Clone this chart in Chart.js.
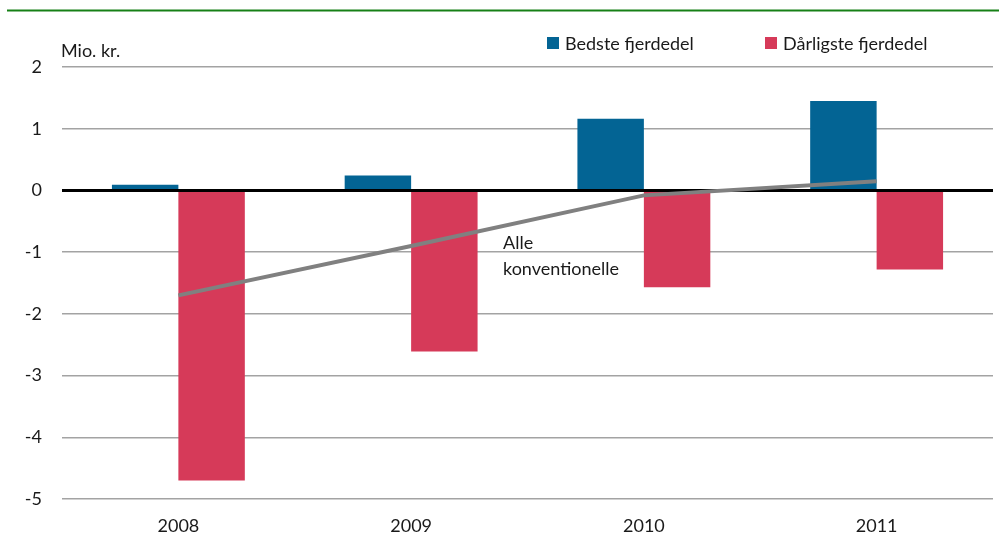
<!DOCTYPE html>
<html>
<head>
<meta charset="utf-8">
<script src="https://cdn.jsdelivr.net/npm/chart.js@4"></script>
<style>
  html, body { margin: 0; padding: 0; background: #fff; }
  #wrap { position: relative; width: 999px; height: 536px; }
</style>
</head>
<body>
<div id="wrap"><canvas id="chart"></canvas></div>
<script>
// data
const years = ['2008', '2009', '2010', '2011'];
const bedste = [0.09, 0.24, 1.16, 1.45];
const daarligste = [-4.70, -2.61, -1.57, -1.28];
const alle = [-1.70, -0.90, -0.08, 0.15];
const yTicks = [2, 1, 0, -1, -2, -3, -4, -5];

const FONT = 'Lato, "Open Sans", sans-serif';

// extra drawing: green top rule, unit label, legend, line annotation, zero line
const decor = {
    id: 'decor',
    beforeDatasetDraw(chart, args) {
        if (args.meta.type !== 'line') return;
        const ctx = chart.ctx;
        const y = chart.scales.y.getPixelForValue(0);
        ctx.save();
        ctx.strokeStyle = '#000';
        ctx.lineWidth = 3;
        ctx.beginPath();
        ctx.moveTo(chart.chartArea.left, y);
        ctx.lineTo(chart.chartArea.right, y);
        ctx.stroke();
        ctx.restore();
    },
    afterDraw(chart) {
        const ctx = chart.ctx;
        ctx.save();
        ctx.strokeStyle = '#168016';
        ctx.lineWidth = 2;
        ctx.beginPath();
        ctx.moveTo(7, 10.5);
        ctx.lineTo(999, 10.5);
        ctx.stroke();

        ctx.fillStyle = '#1a1a1a';
        ctx.font = '18px ' + FONT;
        ctx.textBaseline = 'alphabetic';
        ctx.textAlign = 'left';
        ctx.fillText('Mio. kr.', 61, 57);

        // legend
        const ds = chart.data.datasets;
        const items = [[ds[1], 547], [ds[2], 765]];
        items.forEach(([d, x]) => {
            ctx.fillStyle = d.backgroundColor;
            ctx.fillRect(x, 37, 12, 12);
            ctx.fillStyle = '#1a1a1a';
            ctx.fillText(d.label, x + 18, 50);
        });

        // line label
        ctx.fillText('Alle', 503, 249);
        ctx.fillText('konventionelle', 503, 275);
        ctx.restore();
    }
};

new Chart(document.getElementById('chart'), {
    type: 'bar',
    data: {
        labels: years,
        datasets: [
            {
                type: 'line',
                label: 'Alle konventionelle',
                data: alle,
                borderColor: '#808080',
                borderWidth: 4,
                pointRadius: 0,
                tension: 0,
                order: 0
            },
            {
                label: 'Bedste fjerdedel',
                data: bedste,
                backgroundColor: '#036494',
                order: 1
            },
            {
                label: 'Dårligste fjerdedel',
                data: daarligste,
                backgroundColor: '#d63a59',
                order: 2
            }
        ]
    },
    options: {
        responsive: true,
        maintainAspectRatio: false,
        animation: false,
        layout: { padding: { top: 67, right: 6, bottom: 0, left: 0 } },
        datasets: { bar: { categoryPercentage: 0.571, barPercentage: 1.0 } },
        plugins: { legend: { display: false }, tooltip: { enabled: false } },
        scales: {
            x: {
                grid: { display: false },
                border: { display: false },
                ticks: { color: '#1a1a1a', font: { family: FONT, size: 18 }, padding: 8 },
                afterFit: s => { s.height = 37; }
            },
            y: {
                min: -5,
                max: 2,
                afterBuildTicks: s => { s.ticks = yTicks.map(v => ({ value: v })); },
                grid: {
                    drawTicks: false,
                    color: c => c.tick && c.tick.value === 0 ? '#000' : '#a3a3a3',
                    lineWidth: 1.5
                },
                border: { display: false },
                ticks: { color: '#1a1a1a', font: { family: FONT, size: 18 }, padding: 20 },
                afterFit: s => { s.width = 62; }
            }
        }
    },
    plugins: [decor]
});
</script>
</body>
</html>
